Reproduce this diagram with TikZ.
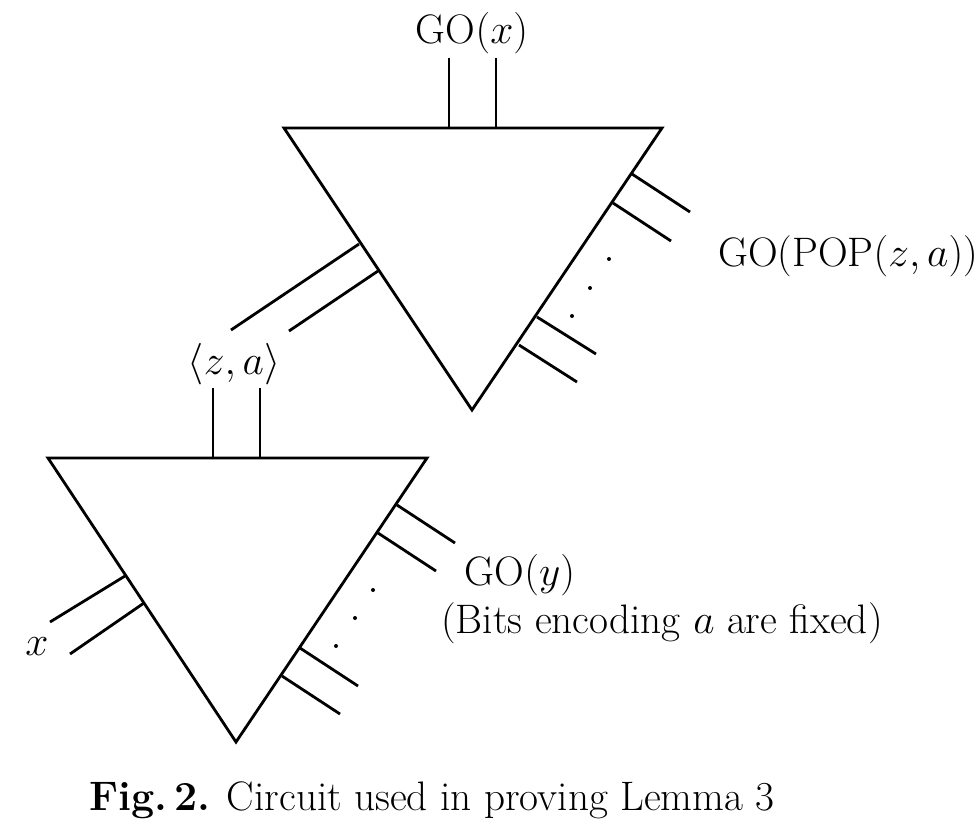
\documentclass[tikz,border=0pt]{standalone}
\begin{document}
\begin{tikzpicture}[x=0.5pt,y=-0.5pt,line width=1.4pt,
  lbl/.style={inner sep=0pt,font=\fontsize{20.6}{24}\selectfont},
  dt/.style={circle,fill=black,inner sep=0pt,minimum size=2pt}]
\useasboundingbox (0,0) rectangle (976,827);
% top triangle
\draw (284,128) -- (662,128) -- (472,410) -- cycle;
\draw (449,128) -- (449,58) (496,128) -- (496,58);
\node[lbl] (gox) at (472,33) {GO$(x)$};
\draw (632,174) -- (690,212) (613,203) -- (671,241);
\draw (537,317) -- (596,354) (519,345) -- (577,382);
\node[dt] (d1) at (609,259) {}; \node[dt] (d2) at (590,288) {}; \node[dt] (d3) at (572,316) {};
\node[lbl] (gopop) at (848,256) {GO(POP$(z,a)$)};
\draw (359,244) -- (231,330) (378,271) -- (289,331);
% bottom triangle
\node[lbl] (za) at (234,364) {$\langle z,a\rangle$};
\draw (213,458) -- (213,388) (260,458) -- (260,388);
\draw (48,458) -- (427,458) -- (236,742) -- cycle;
\draw (397,505) -- (455,543) (378,533) -- (436,571);
\draw (300,648) -- (358,686) (282,676) -- (340,714);
\node[dt] (e1) at (373,590) {}; \node[dt] (e2) at (355,618) {}; \node[dt] (e3) at (336,646) {};
\node[lbl] (goy) at (520,575) {GO$(y)$};
\node[lbl] (bits) at (662,623) {(Bits encoding $a$ are fixed)};
\draw (125,576) -- (50,622) (144,603) -- (70,654);
\node[lbl] (xl) at (37,647) {$x$};
\node[lbl] (cap) at (432,800) {\textbf{Fig.\,2.} Circuit used in proving Lemma 3};
\end{tikzpicture}
\end{document}
